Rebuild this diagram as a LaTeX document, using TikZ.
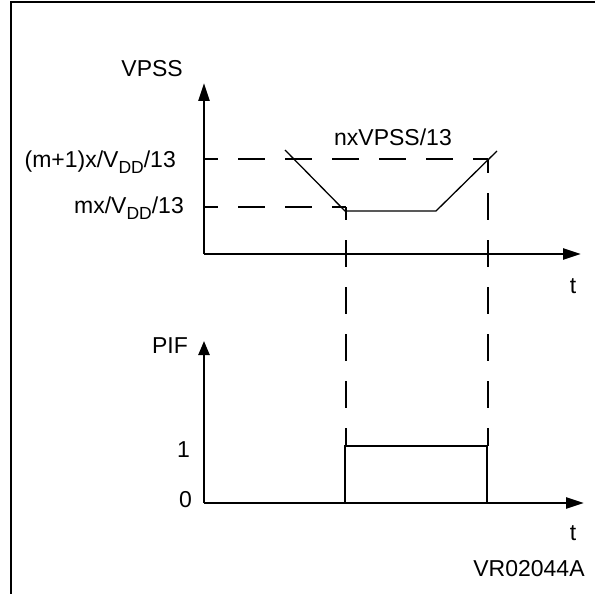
\documentclass[tikz,border=0pt]{standalone}
\usepackage{fontspec}
\setmainfont{Liberation Sans}
\usetikzlibrary{arrows.meta}
\newcommand{\vdd}{V\raisebox{-0.28em}{\fontsize{17.5}{17.5}\selectfont DD}}
\begin{document}
\begin{tikzpicture}[x=1pt,y=-1pt,
  lbl/.style={inner sep=0pt, font=\fontsize{23}{27}\selectfont},
  axis/.style={line width=2.4pt, -{Triangle[length=18pt,width=11pt]}},
  axisS/.style={line width=2.4pt, -{Triangle[length=14pt,width=11pt]}},
  guide/.style={line width=2.4pt, dash pattern=on 27pt off 20pt},
  wave/.style={line width=1.3pt},
  pulse/.style={line width=2.4pt},
  frame/.style={line width=2.6pt}]
\useasboundingbox (0,0) rectangle (595,594);
% frame
\coordinate (fb) at (11,594);
\coordinate (fc) at (11,2);
\coordinate (fr) at (595,2);
\draw[frame] (fb) -- (fc) -- (fr);
% top plot
\coordinate (o1) at (204,254);
\coordinate (y1) at (204,83);
\coordinate (x1) at (581,254);
\draw[axis] (o1) -- (y1);
\draw[axis] (o1) -- (x1);
\coordinate (hu0) at (204,159);
\coordinate (hu1) at (488,159);
\coordinate (hl0) at (204,207);
\coordinate (hl1) at (346,207);
\draw[guide, dash phase=13pt] (hu0) -- (hu1);
\draw[guide, dash phase=13pt] (hl0) -- (hl1);
\coordinate (w0) at (285,150);
\coordinate (w1) at (345,211);
\coordinate (w2) at (436,211);
\coordinate (w3) at (497,151);
\draw[wave] (w0) -- (w1) -- (w2) -- (w3);
% vertical guides
\coordinate (vl1) at (346,446);
\coordinate (vr1) at (488,446);
\draw[guide, dash phase=14pt] (hl1) -- (vl1);
\draw[guide, dash phase=13pt] (hu1) -- (vr1);
% top labels
\node[lbl, anchor=base east] (lvpss) at (183,77) {VPSS};
\node[lbl, anchor=base east] (lm1) at (176,167) {(m+1)x/\vdd/13};
\node[lbl, anchor=base east] (lm) at (184,213) {mx/\vdd/13};
\node[lbl, anchor=base] (ln) at (393,145) {nxVPSS/13};
\node[lbl, anchor=base] (lt1) at (573,293) {t};
% bottom plot
\coordinate (o2) at (204,503);
\coordinate (y2) at (204,341);
\coordinate (x2) at (584,503);
\draw[axisS] (o2) -- (y2);
\draw[axis] (o2) -- (x2);
\coordinate (p0) at (345,503);
\coordinate (p1) at (345,446);
\coordinate (p2) at (487,446);
\coordinate (p3) at (487,503);
\draw[pulse] (p0) -- (p1) -- (p2) -- (p3);
\node[lbl, anchor=base east] (lpif) at (188,353) {PIF};
\node[lbl, anchor=base east] (l1) at (190,457) {1};
\node[lbl, anchor=base east] (l0) at (192,507) {0};
\node[lbl, anchor=base] (lt2) at (573,540) {t};
\node[lbl, anchor=base] (lvr) at (529,576) {VR02044A};
\end{tikzpicture}
\end{document}
